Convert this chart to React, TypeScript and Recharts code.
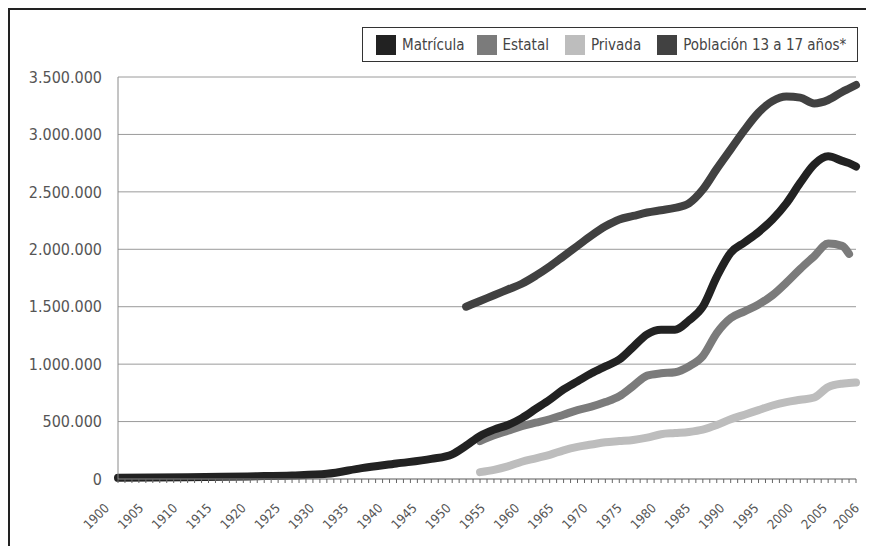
import { LineChart, Line, XAxis, YAxis, CartesianGrid } from "recharts";

const years = [
  1900, 1905, 1910, 1915, 1920, 1925, 1930, 1935, 1940, 1945, 1948, 1950,
  1952, 1954, 1956, 1958, 1960, 1962, 1964, 1966, 1968, 1970, 1972, 1974,
  1976, 1978, 1980, 1982, 1984, 1986, 1988, 1990, 1992, 1994, 1996, 1998,
  2000, 2002, 2004, 2005, 2006
];

const matricula = [
  10000, 12000, 15000, 19000, 24000, 31000, 45000, 95000, 135000, 175000, 215000, 290000,
  375000, 430000, 470000, 530000, 610000, 690000, 780000, 850000, 920000, 980000, 1040000, 1150000,
  1260000, 1300000, 1300000, 1380000, 1500000, 1760000, 1970000, 2060000, 2150000, 2260000, 2400000, 2580000,
  2740000, 2810000, 2770000, 2750000, 2720000
];

const estatal = [
  null, null, null, null, null, null, null, null, null, null, null, null,
  330000, 380000, 420000, 460000, 490000, 520000, 560000, 600000, 630000, 670000, 720000, 810000,
  900000, 920000, 930000, 980000, 1070000, 1270000, 1400000, 1460000, 1520000, 1600000, 1710000, 1830000,
  1940000, 2050000, 2030000, 1960000, null
];

const privada = [
  null, null, null, null, null, null, null, null, null, null, null, null,
  60000, 80000, 110000, 150000, 180000, 210000, 250000, 280000, 300000, 320000, 330000, 340000,
  360000, 390000, 400000, 410000, 430000, 470000, 520000, 560000, 600000, 640000, 670000, 690000,
  710000, 800000, 830000, 835000, 840000
];

const poblacion = [
  null, null, null, null, null, null, null, null, null, null, null, 1500000,
  1550000, 1600000, 1650000, 1700000, 1770000, 1850000, 1940000, 2030000, 2120000, 2200000, 2260000, 2290000,
  2320000, 2340000, 2360000, 2400000, 2520000, 2700000, 2870000, 3040000, 3190000, 3290000, 3330000, 3320000,
  3270000, 3300000, 3370000, 3400000, 3430000
];

const yTicks = [0, 500000, 1000000, 1500000, 2000000, 2500000, 3000000, 3500000];
const labelYears = [
  1900, 1905, 1910, 1915, 1920, 1925, 1930, 1935, 1940, 1945, 1950, 1955,
  1960, 1965, 1970, 1975, 1980, 1985, 1990, 1995, 2000, 2005, 2006
];
// one small tick mark per year
const yearTicks = Array.from({ length: 2006 - 1900 + 1 }, (_, i) => 1900 + i);

const series = [
  { key: "matricula", name: "Matrícula", color: "#222222" },
  { key: "estatal", name: "Estatal", color: "#7b7b7b" },
  { key: "privada", name: "Privada", color: "#bdbdbd" },
  { key: "poblacion", name: "Población 13 a 17 años*", color: "#414141" }
];

const data = years.map((year, i) => ({
  year,
  matricula: matricula[i],
  estatal: estatal[i],
  privada: privada[i],
  poblacion: poblacion[i]
}));

const FONT = "'DejaVu Sans Condensed', 'DejaVu Sans', sans-serif";

const fmt = (v: number) => String(v).replace(/\B(?=(\d{3})+(?!\d))/g, ".");

// rotated year labels, only every 5 years plus the last one
const renderXTick = (props: any) => {
  const { x, y, payload } = props;
  const v = payload.value;
  if (!labelYears.includes(v)) return <g />;
  const shift = v === 2006 ? 4 : -8 - (v - 1900) * 0.125;
  return (
    <text
      transform={`translate(${x + shift},${y + 24}) rotate(-45)`}
      textAnchor="end"
      fontFamily={FONT}
      fontSize={13}
      fill="#555"
    >
      {v}
    </text>
  );
};

const drawOrder = ["privada", "estatal", "poblacion", "matricula"];

export default function App() {
  return (
    <div
      style={{
        position: "relative",
        width: 866,
        height: 538,
        borderTop: "2px solid #222",
        borderLeft: "2px solid #222",
        background: "#fff",
        fontFamily: FONT
      }}
    >
      <LineChart
        width={864}
        height={536}
        data={data}
        margin={{ top: 67, right: 18, bottom: 7, left: 8 }}
      >
        <CartesianGrid vertical={false} stroke="#9a9a9a" />
        <XAxis
          dataKey="year"
          type="number"
          domain={[1900, 2006]}
          ticks={yearTicks}
          interval={0}
          height={60}
          tickSize={4}
          tickMargin={2}
          stroke="#8a8a8a"
          tickLine={{ stroke: "#666" }}
          tick={renderXTick}
        />
        <YAxis
          domain={[0, 3500000]}
          ticks={yTicks}
          width={100}
          tickLine={false}
          tickSize={0}
          tickMargin={16}
          stroke="#8a8a8a"
          tickFormatter={fmt}
          tick={{ fill: "#555", fontSize: 16, fontFamily: FONT }}
        />
        {drawOrder.map((k) => {
          const s = series.find((d) => d.key === k)!;
          return (
            <Line
              key={k}
              dataKey={k}
              name={s.name}
              type="monotone"
              stroke={s.color}
              strokeWidth={8}
              strokeLinecap="round"
              strokeLinejoin="round"
              dot={false}
              activeDot={false}
              isAnimationActive={false}
            />
          );
        })}
      </LineChart>
      <div
        style={{
          position: "absolute",
          left: 352,
          top: 17,
          width: 481,
          height: 33,
          border: "1px solid #333",
          display: "flex",
          alignItems: "center",
          paddingLeft: 13,
          fontSize: 15,
          color: "#444",
          whiteSpace: "nowrap"
        }}
      >
        {series.map((s, i) => (
          <div key={s.key} style={{ display: "flex", alignItems: "center", marginRight: i === 0 ? 12 : 16 }}>
            <span style={{ width: 20, height: 20, background: s.color, marginRight: 6, display: "inline-block" }} />
            <span>{s.name}</span>
          </div>
        ))}
      </div>
    </div>
  );
}
